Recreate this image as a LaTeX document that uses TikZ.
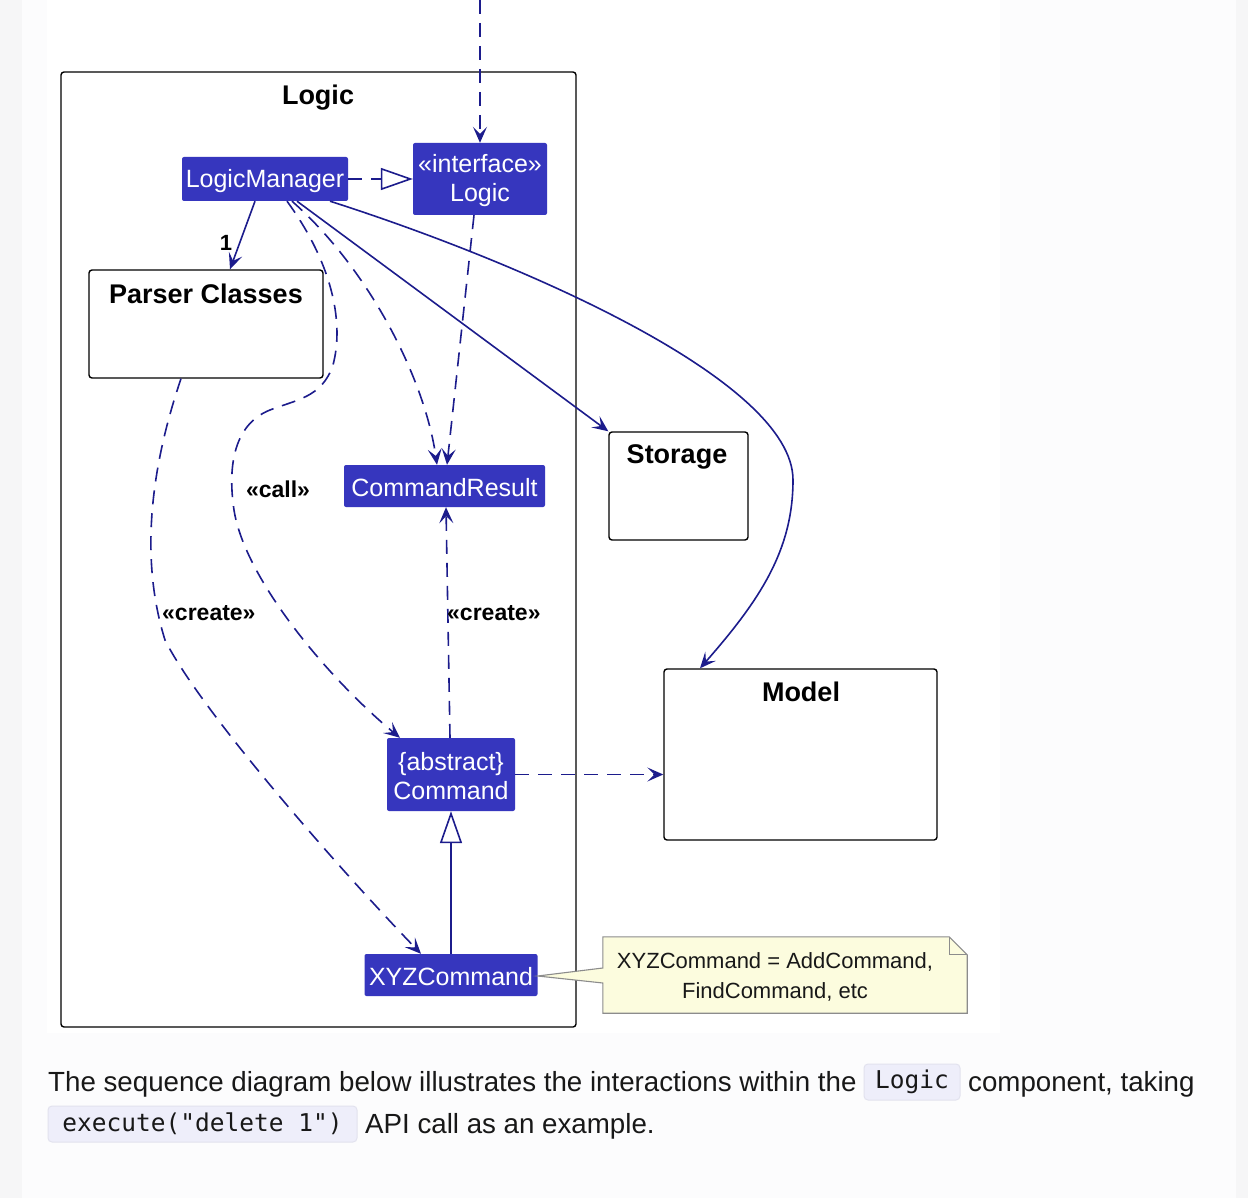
\documentclass[tikz,border=0pt]{standalone}
\usepackage{fontspec}
\setmainfont{Liberation Sans}
\setmonofont{DejaVu Sans Mono}
\usetikzlibrary{arrows.meta,calc}
\definecolor{umlblue}{RGB}{54,54,190}
\definecolor{umlline}{RGB}{28,28,140}
\definecolor{notefill}{RGB}{252,252,222}
\definecolor{noteedge}{RGB}{140,140,140}
\definecolor{codebg}{RGB}{238,238,250}
\definecolor{codeedge}{RGB}{226,226,238}
\definecolor{pagebg}{RGB}{252,252,253}
\definecolor{sidebg}{RGB}{246,246,247}
\definecolor{bodytext}{RGB}{24,24,24}
\begin{document}
\begin{tikzpicture}[x=1pt,y=-1pt,
  umlbox/.style={fill=umlblue,text=white,font=\fontsize{25}{29}\selectfont,
    rounded corners=2pt,inner sep=0pt,align=center},
  pkgbox/.style={draw=black,line width=1.4pt,fill=white,rounded corners=3pt,inner sep=0pt},
  titletext/.style={font=\bfseries\fontsize{27}{32}\selectfont,inner sep=0pt},
  stereo/.style={font=\bfseries\fontsize{23}{27}\selectfont,inner sep=0pt},
  conn/.style={draw=umlline,line width=1.6pt,
    >={Stealth[length=16pt,width=14pt,inset=7pt]}},
  dsh/.style={conn,dash pattern=on 14pt off 9pt},
  codebox/.style={fill=codebg,draw=codeedge,line width=1pt,rounded corners=4pt,
    inner sep=0pt,font=\ttfamily\fontsize{24.5}{29}\selectfont,text=bodytext},
  bodyfont/.style={font=\fontsize{27.7}{33}\selectfont,text=bodytext,inner sep=0pt},
  boxlabel/.style={text=white,font=\fontsize{25}{29}\selectfont,inner sep=0pt,align=center}
]
\useasboundingbox (0,0) rectangle (1248,1198);
\fill[sidebg] (0,0) rectangle (1248,1198);
\fill[pagebg] (22,0) rectangle (1236,1198);
\fill[white] (47,0) rectangle (1000,1033);

% package Logic
\node[pkgbox,minimum width=515pt,minimum height=955pt] (logicpkg) at (318.5,549.5) {};
\node[titletext] (logictitle) at (318,98) {Logic};

% outside components
\node[pkgbox,minimum width=234pt,minimum height=108pt] (parser) at (206,324) {};
\node[titletext] (parsertitle) at (206,294) {Parser Classes};
\node[pkgbox,minimum width=139pt,minimum height=108pt] (storage) at (678.5,486) {};
\node[titletext] (storagetitle) at (677,457) {Storage};
\node[pkgbox,minimum width=273pt,minimum height=171pt] (model) at (800.5,754.5) {};
\node[titletext] (modeltitle) at (801,692) {Model};

% classes
\node[umlbox,minimum width=166pt,minimum height=44pt] (lm) at (265,179) {};
\node[boxlabel] (lmtext) at (265,181) {LogicManager};
\node[umlbox,minimum width=134pt,minimum height=72pt] (iface) at (480,179) {};
\node[boxlabel] (ifacetext) at (480,181) {«interface»\\Logic};
\node[umlbox,minimum width=201pt,minimum height=42pt] (cr) at (444.5,486) {};
\node[boxlabel] (crtext) at (444.5,488) {CommandResult};
\node[umlbox,minimum width=128pt,minimum height=73pt] (cmd) at (451,774.5) {};
\node[boxlabel] (cmdtext) at (451,776) {\{abstract\}\\Command};
\node[umlbox,minimum width=173pt,minimum height=42pt] (xyz) at (451,975) {};
\node[boxlabel] (xyztext) at (451,977) {XYZCommand};

% note
\node[minimum width=364pt,minimum height=76pt,inner sep=0pt] (note) at (785,975) {};
\draw[fill=notefill,draw=noteedge,line width=1.1pt]
  ([yshift=7pt]note.west) -- (note.north west) -- ([xshift=-18pt]note.north east)
  -- ([yshift=-18pt]note.north east) -- (note.south east) -- (note.south west)
  -- ([yshift=-8pt]note.west) -- ([yshift=-1pt]xyz.east) -- cycle;
\draw[draw=noteedge,line width=1.1pt] ([xshift=-18pt]note.north east)
  -- ([xshift=-18pt,yshift=-18pt]note.north east) -- ([yshift=-18pt]note.north east);
\node[font=\fontsize{22}{30}\selectfont,align=center,inner sep=0pt,text=bodytext] (notetext) at (775,977)
  {XYZCommand = AddCommand,\\FindCommand, etc};

% connectors
\coordinate (topin) at (480,0);
\draw[dsh,->] (topin) -- (iface.north);
\draw[dsh,-{Triangle[open,length=32pt,width=22pt,fill=white]}] (lm.east) -- (iface.west);
\draw[conn,->] ([xshift=-10pt]lm.south) -- ([xshift=24pt]parser.north);
\node[font=\bfseries\fontsize{22}{26}\selectfont,inner sep=0pt] (one) at (226,243) {1};
\draw[conn,->] ([xshift=32pt]lm.south) -- (storage.north west);
\draw[conn,->] ([xshift=65pt]lm.south) .. controls (520,262) and (793,380) .. (793,480)
  .. controls (793,550) and (760,600) .. ([xshift=-100.5pt]model.north);
\draw[dsh,->] ([xshift=27pt]lm.south) .. controls (370,270) and (425,380) .. ([xshift=-7.5pt]cr.north);
\draw[dsh,->] ([xshift=-6pt]iface.south) -- ([xshift=2.5pt]cr.north);
\draw[dsh,->] ([xshift=22pt]lm.south) .. controls (330,260) and (345,320) .. (333,365)
  .. controls (322,398) and (295,400) .. (270,410)
  .. controls (232,425) and (228,470) .. (234,510)
  .. controls (245,580) and (330,680) .. ([xshift=-51pt]cmd.north);
\node[stereo] (calllbl) at (278,489) {«call»};
\draw[dsh,->] ([xshift=-25pt]parser.south) .. controls (150,470) and (140,560) .. (165,640)
  .. controls (200,710) and (340,870) .. ([xshift=-30pt]xyz.north);
\node[stereo,anchor=west] (create1) at (162,613) {«create»};
\draw[dsh,->] ([xshift=-1pt]cmd.north) -- ([xshift=1.5pt]cr.south);
\node[stereo,anchor=west] (create2) at (447,613) {«create»};
\draw[dsh,->] (cmd.east) -- ([yshift=-20pt]model.west);
\draw[conn,-{Triangle[open,length=32pt,width=22pt,fill=white]}] (xyz.north) -- (cmd.south);

% body text
\node[bodyfont,anchor=base west] (t1) at (48,1091) {The sequence diagram below illustrates the interactions within the};
\node[codebox,minimum width=96pt,minimum height=36pt] (code1) at (912,1082) {Logic};
\node[bodyfont,anchor=base west] (t2) at (968,1091) {component, taking};
\node[codebox,minimum width=309pt,minimum height=36pt] (code2) at (202.5,1124) {execute("delete 1")};
\node[bodyfont,anchor=base west] (t3) at (365,1133) {API call as an example.};
\end{tikzpicture}
\end{document}
